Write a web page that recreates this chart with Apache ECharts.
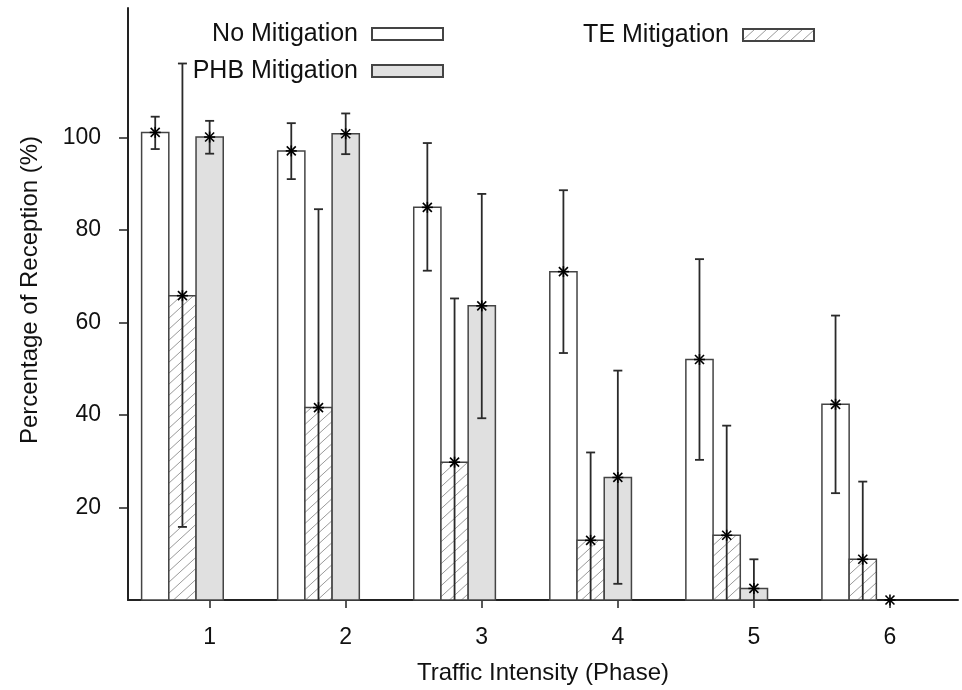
<!DOCTYPE html>
<html>
<head>
<meta charset="utf-8">
<script src="https://cdn.jsdelivr.net/npm/echarts@6/dist/echarts.min.js"></script>
<style>
  html, body { margin: 0; padding: 0; background: #fff; }
  #chart { width: 962px; height: 690px; }
</style>
</head>
<body>
<div id="chart"></div>
<script>
// phases on the x axis
const phases = [1, 2, 3, 4, 5, 6];
const xTicks = [1, 2, 3, 4, 5, 6];
const yTicks = [20, 40, 60, 80, 100];

// values (mean, lower and upper end of error bar)
const noMit = [101.1, 97.1, 84.9, 71.0, 52.0, 42.3];
const noMitLo = [97.5, 91.0, 71.2, 53.4, 30.3, 23.1];
const noMitHi = [104.5, 103.1, 98.8, 88.6, 73.7, 61.5];

const teMit = [65.8, 41.6, 29.8, 12.9, 14.0, 8.8];
const teMitLo = [15.8, 0, 0, 0, 0, 0];
const teMitHi = [116.0, 84.5, 65.2, 31.9, 37.7, 25.6];

const phbMit = [100.1, 100.8, 63.6, 26.5, 2.5, 0];
const phbMitLo = [96.5, 96.4, 39.3, 3.5, 0, 0];
const phbMitHi = [103.6, 105.2, 87.8, 49.6, 8.8, 0];

const BAR_W = 0.2;
const FONT = '"Liberation Sans", Arial, Helvetica, sans-serif';

// hatch pattern for TE bars
function makeHatch() {
  const w = 12, h = 11;
  const cv = document.createElement('canvas');
  cv.width = w; cv.height = h;
  const ctx = cv.getContext('2d');
  ctx.fillStyle = '#fff';
  ctx.fillRect(0, 0, w, h);
  ctx.strokeStyle = '#999';
  ctx.lineWidth = 1;
  [-1, 0, 1].forEach(function (k) {
    ctx.beginPath();
    ctx.moveTo(0, h + k * h);
    ctx.lineTo(w, k * h);
    ctx.stroke();
  });
  return { image: cv, repeat: 'repeat' };
}
const hatch = makeHatch();

function rows(v, lo, hi) {
  return phases.map(function (p, i) { return [p, v[i], lo[i], hi[i]]; });
}

function makeRender(offset, fill) {
  return function (params, api) {
    const x = api.value(0) + offset;
    const v = api.value(1), lo = api.value(2), hi = api.value(3);
    const a = api.coord([x - BAR_W / 2, v]);
    const b = api.coord([x + BAR_W / 2, 0]);
    const c = api.coord([x, v]);
    const t = api.coord([x, hi]);
    const d = api.coord([x, lo]);
    const lineStyle = { stroke: '#2a2a2a', lineWidth: 1.8 };
    const children = [];
    if (v > 0) {
      children.push({
        type: 'rect',
        shape: { x: a[0], y: a[1], width: b[0] - a[0], height: b[1] - a[1] },
        style: { fill: fill, stroke: '#444', lineWidth: 1.5 }
      });
    }
    if (hi > lo) {
      children.push({ type: 'line', shape: { x1: t[0], y1: t[1], x2: d[0], y2: d[1] }, style: lineStyle });
      children.push({ type: 'line', shape: { x1: t[0] - 4.5, y1: t[1], x2: t[0] + 4.5, y2: t[1] }, style: lineStyle });
      if (lo > 0) {
        children.push({ type: 'line', shape: { x1: d[0] - 4.5, y1: d[1], x2: d[0] + 4.5, y2: d[1] }, style: lineStyle });
      }
    }
    // asterisk at the mean
    const s = 4.5;
    const star = { stroke: '#000', lineWidth: 1.6 };
    children.push({ type: 'line', shape: { x1: c[0] - s, y1: c[1] - s, x2: c[0] + s, y2: c[1] + s }, style: star });
    children.push({ type: 'line', shape: { x1: c[0] - s, y1: c[1] + s, x2: c[0] + s, y2: c[1] - s }, style: star });
    children.push({ type: 'line', shape: { x1: c[0], y1: c[1] - s - 1, x2: c[0], y2: c[1] + s + 1 }, style: star });
    children.push({ type: 'line', shape: { x1: c[0] - s - 1, y1: c[1], x2: c[0] + s + 1, y2: c[1] }, style: star });
    return { type: 'group', children: children };
  };
}

const chart = echarts.init(document.getElementById('chart'), null, { renderer: 'canvas' });

const legendText = { fontFamily: FONT, fontSize: 25, color: '#111', lineHeight: 26, padding: [0, 9, 0, 0] };

chart.setOption({
  animation: false,
  backgroundColor: '#fff',
  grid: { left: 128, right: 4, top: 8, bottom: 88 },
  legend: [
    {
      data: ['No Mitigation', 'PHB Mitigation'],
      orient: 'vertical',
      align: 'right',
      right: 518,
      top: 21,
      padding: 0,
      itemGap: 11,
      itemWidth: 71,
      itemHeight: 12,
      icon: 'rect',
      selectedMode: false,
      textStyle: legendText
    },
    {
      data: ['TE Mitigation'],
      orient: 'vertical',
      align: 'right',
      right: 147,
      top: 22,
      padding: 0,
      itemWidth: 71,
      itemHeight: 12,
      icon: 'rect',
      selectedMode: false,
      textStyle: legendText
    }
  ],
  xAxis: {
    type: 'value',
    min: 0.4,
    max: 6.5,
    name: 'Traffic Intensity (Phase)',
    nameLocation: 'middle',
    nameGap: 61,
    nameTextStyle: { fontFamily: FONT, fontSize: 24, color: '#111' },
    splitLine: { show: false },
    axisLine: { onZero: false, lineStyle: { color: '#222', width: 2 } },
    axisTick: { customValues: xTicks, length: 8, lineStyle: { color: '#222', width: 1.5 } },
    axisLabel: { customValues: xTicks, margin: 26, fontFamily: FONT, fontSize: 23, color: '#111' }
  },
  yAxis: {
    type: 'value',
    min: 0,
    max: 128,
    name: 'Percentage of Reception (%)',
    nameLocation: 'middle',
    nameGap: 86,
    nameTextStyle: { fontFamily: FONT, fontSize: 24, color: '#111', padding: [0, 0, 0, 28] },
    splitLine: { show: false },
    axisLine: { show: true, onZero: false, lineStyle: { color: '#222', width: 2 } },
    axisTick: { show: true, customValues: yTicks, length: 9, lineStyle: { color: '#222', width: 1.5 } },
    axisLabel: { customValues: yTicks, margin: 27, fontFamily: FONT, fontSize: 23, color: '#111' }
  },
  series: [
    {
      name: 'No Mitigation',
      type: 'custom',
      renderItem: makeRender(-0.4, '#fff'),
      itemStyle: { color: '#fff', borderColor: '#444', borderWidth: 1.5 },
      encode: { x: 0, y: 1 },
      data: rows(noMit, noMitLo, noMitHi)
    },
    {
      name: 'TE Mitigation',
      type: 'custom',
      renderItem: makeRender(-0.2, hatch),
      itemStyle: { color: hatch, borderColor: '#444', borderWidth: 1.5 },
      encode: { x: 0, y: 1 },
      data: rows(teMit, teMitLo, teMitHi)
    },
    {
      name: 'PHB Mitigation',
      type: 'custom',
      renderItem: makeRender(0, '#e0e0e0'),
      itemStyle: { color: '#e0e0e0', borderColor: '#444', borderWidth: 1.5 },
      encode: { x: 0, y: 1 },
      data: rows(phbMit, phbMitLo, phbMitHi)
    }
  ]
});
</script>
</body>
</html>
